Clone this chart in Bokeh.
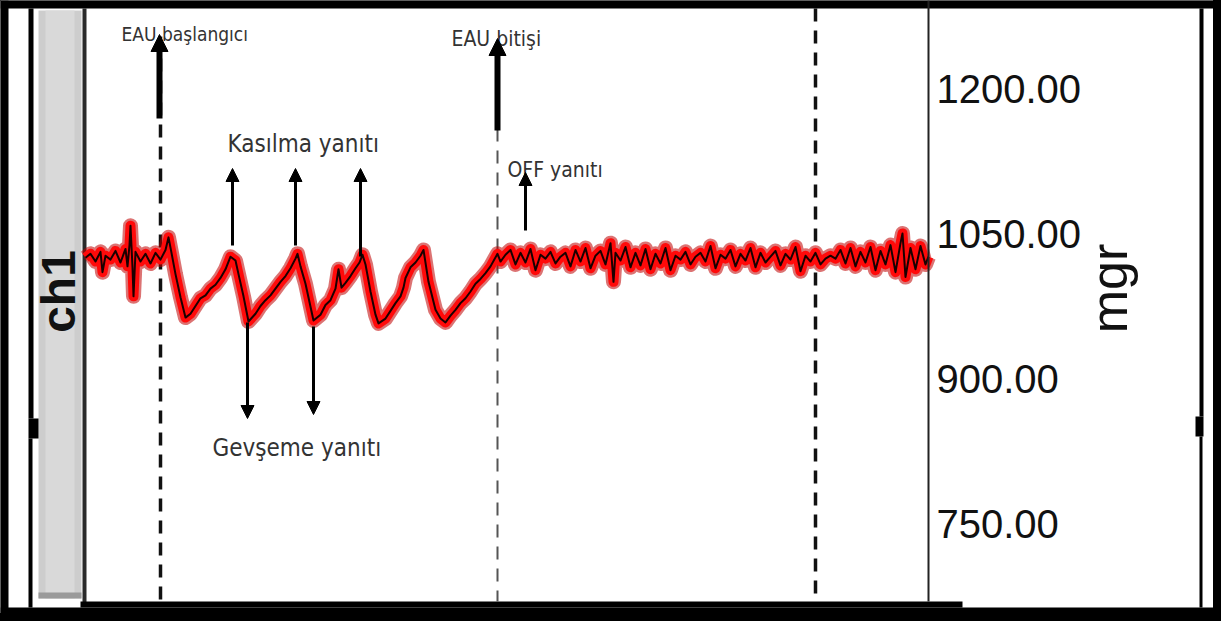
from math import pi
from bokeh.plotting import figure
from bokeh.models import (Range1d, LinearAxis, FixedTicker, NumeralTickFormatter,
                          Label, Arrow, NormalHead, GlobalInlineStyleSheet)
from bokeh.embed import file_html
from bokeh.resources import INLINE

# ---------------- data (time in s, force in mgr) ----------------
mgr_ticks = [750, 900, 1050, 1200]

base_t = [0.0, 0.5, 1.0, 1.5, 1.7, 2.0, 2.5, 3.0, 3.5, 4.0, 4.2, 4.4, 4.5, 4.7, 4.8, 5.0,
          5.5, 6.0, 6.5, 7.0, 7.5, 8.0, 8.3, 8.6]
base_v = [1025, 1029, 1021, 1031, 1010, 1027, 1023, 1032, 1020, 1034, 1016, 1038, 1058, 1015, 985, 1031,
          1021, 1029, 1019, 1030, 1023, 1033, 1046, 1030]

stim_t = [9.0, 9.5, 10.0, 10.5, 11.0, 11.5, 12.0, 12.5, 13.0, 13.5, 14.0, 14.5,
          15.0, 15.3, 15.8, 16.3, 17.0, 17.5, 18.0, 18.5, 19.0, 19.5, 20.0, 20.5,
          21.0, 21.2, 21.5, 22.0, 22.8, 23.5, 24.0, 24.5, 25.0, 25.3, 25.6, 26.0,
          26.5, 27.0, 27.4, 27.7, 28.0, 28.5, 29.0, 29.3, 30.0, 30.5, 31.0, 31.5,
          31.8, 32.0, 32.5, 33.0, 33.5, 33.8, 34.3, 35.0, 35.5, 36.0, 36.5, 37.0,
          37.5, 38.0, 38.5, 39.0, 39.5, 40.0, 40.5, 41.2]
stim_v = [1008, 984, 963, 967, 975, 983, 986, 993, 997, 1004, 1013, 1026,
          1022, 1008, 985, 959, 967, 975, 981, 986, 993, 1000, 1006, 1014,
          1024, 1029, 1016, 998, 960, 966, 976, 981, 993, 1013, 994, 999,
          1006, 1014, 1020, 1028, 1018, 990, 966, 957, 962, 970, 978, 985,
          994, 1004, 1015, 1020, 1027, 1033, 1000, 971, 962, 958, 965, 971,
          978, 983, 990, 998, 1003, 1009, 1016, 1029]

post_t = [41.5, 42.0, 42.5, 43.0, 43.5, 44.0, 44.5, 45.0, 45.5, 46.0, 46.5, 47.0,
          47.5, 48.0, 48.5, 49.0, 49.5, 50.0, 50.5, 51.0, 51.5, 52.0, 52.5, 52.8,
          53.0, 53.5, 54.0, 54.5, 55.0, 55.5, 56.0, 56.5, 57.0, 57.5, 58.0, 58.5,
          59.0, 59.5, 60.0, 60.5, 61.0, 61.5, 62.0, 62.5, 63.0, 63.5, 64.0, 64.5,
          65.0, 65.5, 66.0, 66.5, 67.0, 67.5, 68.0, 68.5, 69.0, 69.5, 70.0, 70.5,
          71.0, 71.5, 72.0, 72.5, 73.0, 73.5, 74.0, 74.5, 75.0, 75.5, 76.0, 76.5,
          77.0, 77.5, 78.0, 78.5, 79.0, 79.5, 80.0, 80.5, 81.0, 81.5, 81.7, 82.0,
          82.5, 83.0, 83.5, 84.0, 84.3]
post_v = [1021, 1028, 1033, 1018, 1030, 1020, 1034, 1012, 1028, 1024, 1031, 1019,
          1026, 1030, 1016, 1033, 1021, 1035, 1014, 1027, 1032, 1018, 1040, 1000,
          1030, 1022, 1036, 1015, 1030, 1017, 1034, 1013, 1029, 1019, 1035, 1012,
          1027, 1023, 1031, 1018, 1026, 1030, 1021, 1037, 1014, 1028, 1024, 1033,
          1016, 1029, 1022, 1035, 1015, 1030, 1020, 1026, 1032, 1017, 1029, 1023,
          1036, 1011, 1027, 1021, 1030, 1018, 1024, 1027, 1024, 1033, 1019, 1035,
          1016, 1031, 1020, 1036, 1012, 1032, 1018, 1038, 1010, 1040, 1050, 1005,
          1035, 1013, 1037, 1018, 1026]

marker_t = [7.5, 41.2, 73.0]          # dashed event lines (s)

# ---------------- page geometry helpers (chrome only) ----------------
PX_PER_S = 10.0
PX_PER_MGR = 145.0 / 150.0


def X(px):
    return (px - 85) / PX_PER_S


def Y(py):
    return 1050 - (py - 233) / PX_PER_MGR


W, H = 1213, 613
p = figure(width=W, height=H, output_backend="svg", toolbar_location=None,
           x_axis_type=None, y_axis_type=None,
           x_range=Range1d(X(0), X(W)), y_range=Range1d(Y(H), Y(0)),
           min_border=0, outline_line_color=None,
           background_fill_color="white", border_fill_color="white")
p.stylesheets = [GlobalInlineStyleSheet(css="body{background:#000;}")]

# outer black frame (top / left)
p.quad(left=[X(0), X(0)], right=[X(W), X(8)], top=[Y(0), Y(0)], bottom=[Y(8), Y(H)],
       fill_color="black", line_color=None)

# left channel strip
p.quad(left=[X(38)], right=[X(81)], top=[Y(10)], bottom=[Y(598)],
       fill_color="#cdcdcd", line_color=None)
p.quad(left=[X(45)], right=[X(74)], top=[Y(10)], bottom=[Y(598)],
       fill_color="#d9d9d9", line_color=None)
p.quad(left=[X(38)], right=[X(81)], top=[Y(598)], bottom=[Y(592)],
       fill_color="#9a9a9a", line_color=None)
# left bracket line with notch
p.quad(left=[X(28), X(28), X(28)], right=[X(33), X(38), X(32)],
       top=[Y(8), Y(418), Y(438)], bottom=[Y(418), Y(438), Y(607)],
       fill_color="black", line_color=None)
# right bracket line with notch
p.quad(left=[X(1199), X(1195), X(1199)], right=[X(1203), X(1203), X(1202)],
       top=[Y(8), Y(416), Y(436)], bottom=[Y(416), Y(436), Y(607)],
       fill_color="black", line_color=None)
# plot left border
p.quad(left=[X(82)], right=[X(86)], top=[Y(8)], bottom=[Y(602)],
       fill_color="#2a2a2a", line_color=None)
# bottom black band
p.quad(left=[X(0), X(80)], right=[X(W), X(962)], top=[Y(607), Y(601)],
       bottom=[Y(H), Y(607)], fill_color="black", line_color=None)

# dashed event lines
p.segment(x0=[marker_t[0]], y0=[Y(36)], x1=[marker_t[0]], y1=[Y(601)],
          line_color="#111111", line_width=3.5, line_dash="13 9")
p.segment(x0=[marker_t[1]], y0=[Y(40)], x1=[marker_t[1]], y1=[Y(601)],
          line_color="#555555", line_width=2, line_dash="13 9")
p.segment(x0=[marker_t[2]], y0=[Y(8)], x1=[marker_t[2]], y1=[Y(601)],
          line_color="#111111", line_width=3.5, line_dash="13 9")

# trace
t = base_t + stim_t + post_t
v = base_v + stim_v + post_v
p.line(t, v, line_color="#c00000", line_alpha=0.55, line_width=15, line_join="round")
p.line(t, v, line_color="#ff0a0a", line_width=10, line_join="round")
p.line(t, v, line_color="#1a0000", line_width=2, line_join="round")

# right axis (fixed at the plot's right edge)
ax = LinearAxis(fixed_location=X(928), ticker=FixedTicker(ticks=mgr_ticks),
                formatter=NumeralTickFormatter(format="0.00"),
                bounds=(Y(601), Y(0)),
                major_label_text_font="Liberation Sans",
                major_label_text_font_size="40px", major_label_text_color="#111111",
                axis_line_color="#222222", axis_line_width=2,
                major_tick_in=0, major_tick_out=0, minor_tick_in=0, minor_tick_out=0,
                major_tick_line_color=None, minor_tick_line_color=None,
                major_label_standoff=8)
p.add_layout(ax, "right")

# axis / channel labels
p.add_layout(Label(x=X(1108), y=Y(288), text="mgr", angle=pi / 2,
                   text_font="Liberation Sans", text_font_size="52px",
                   text_color="#111111", text_align="center", text_baseline="middle"))
p.add_layout(Label(x=X(58), y=Y(291), text="ch1", angle=pi / 2,
                   text_font="Liberation Sans", text_font_style="bold",
                   text_font_size="48px", text_color="#111111",
                   text_align="center", text_baseline="middle"))

# annotations
TXT = "#333333"
FONT = "DejaVu Sans Condensed"
p.add_layout(Label(x=X(121), y=Y(33), text="EAU başlangıcı", text_font=FONT,
                   text_font_size="19px", text_color=TXT, text_baseline="alphabetic"))
p.add_layout(Label(x=X(451), y=Y(38), text="EAU bitişi", text_font=FONT,
                   text_font_size="21px", text_color=TXT, text_baseline="alphabetic"))
p.add_layout(Label(x=X(227), y=Y(143), text="Kasılma yanıtı", text_font=FONT,
                   text_font_size="24px", text_color=TXT, text_baseline="alphabetic"))
p.add_layout(Label(x=X(212), y=Y(447), text="Gevşeme yanıtı", text_font=FONT,
                   text_font_size="24px", text_color=TXT, text_baseline="alphabetic"))
p.add_layout(Label(x=X(507), y=Y(169), text="OFF yanıtı", text_font=FONT,
                   text_font_size="21px", text_color=TXT, text_baseline="alphabetic"))


def arrow(px, py0, py1, w, size):
    p.add_layout(Arrow(end=NormalHead(size=size, fill_color="black", line_color="black"),
                       x_start=X(px), y_start=Y(py0), x_end=X(px), y_end=Y(py1),
                       line_color="black", line_width=w))


arrow(159, 118, 34, 6, 17)     # EAU start
arrow(497, 130, 38, 6, 17)     # EAU end
arrow(232, 245, 168, 3, 13)    # contraction responses
arrow(295, 245, 168, 3, 13)
arrow(360, 256, 168, 3, 13)
arrow(247, 322, 418, 3, 13)    # relaxation responses
arrow(313, 326, 414, 3, 13)
arrow(525, 230, 172, 3, 13)    # OFF response

open("out.html", "w").write(file_html(p, INLINE))
